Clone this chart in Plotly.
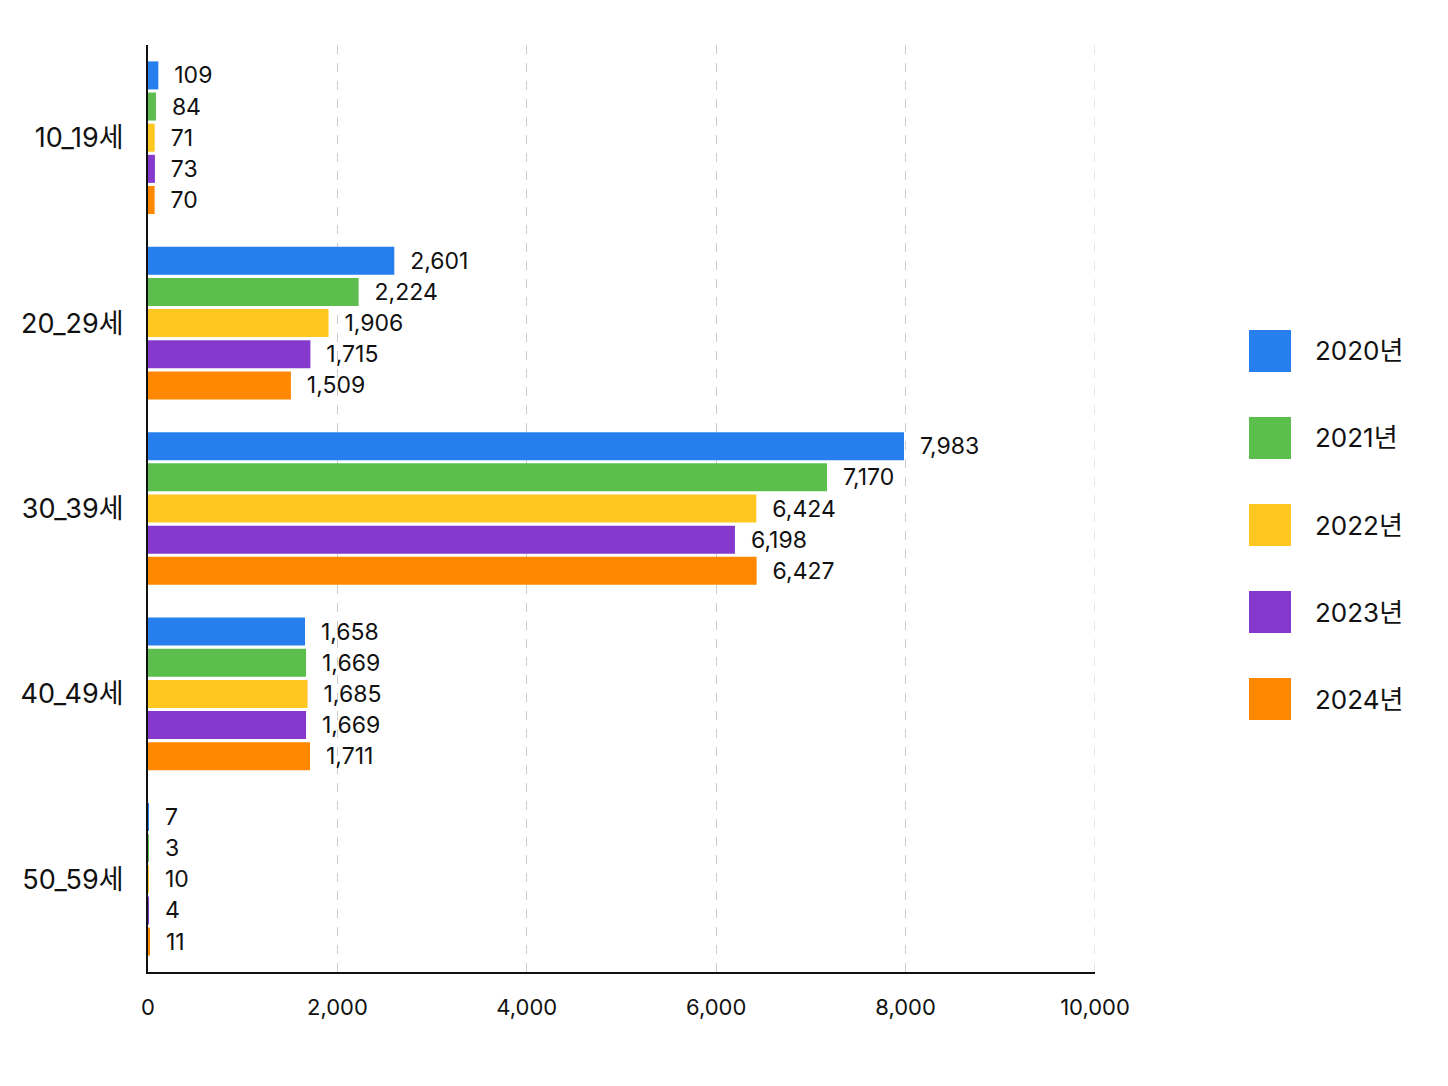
import plotly.graph_objects as go

# age groups and yearly counts
categories = ['10_19세', '20_29세', '30_39세', '40_49세', '50_59세']
years = ['2020년', '2021년', '2022년', '2023년', '2024년']
values_2020 = [109, 2601, 7983, 1658, 7]
values_2021 = [84, 2224, 7170, 1669, 3]
values_2022 = [71, 1906, 6424, 1685, 10]
values_2023 = [73, 1715, 6198, 1669, 4]
values_2024 = [70, 1509, 6427, 1711, 11]
x_ticks = [0, 2000, 4000, 6000, 8000, 10000]

series = [values_2020, values_2021, values_2022, values_2023, values_2024]
colors = ['#277FEE', '#5CBE4C', '#FFC720', '#8439CC', '#FF8800']

font_family = 'Inter, Noto Sans CJK KR, sans-serif'
W, H = 1448, 1086
# page body adds an 8px offset, so margins are set a bit tighter
left, right, top, bottom = 140, 361, 37, 122
plot_w = W - left - right
plot_h = H - top - bottom
scr_left, scr_bottom = left + 8, H - bottom + 8

fig = go.Figure()
for name, vals, color in zip(years, series, colors):
    fig.add_trace(go.Bar(
        y=categories, x=vals, name=name, orientation='h',
        marker=dict(color=color, line=dict(width=0)),
        text=vals, texttemplate='\u00a0\u00a0%{x:,}', textposition='outside',
        textfont=dict(size=23, color='#111111', family=font_family),
        constraintext='none', cliponaxis=False, showlegend=False,
    ))

# hand-drawn legend with large swatches
shapes = []
annotations = []
for i, (name, color) in enumerate(zip(years, colors)):
    cy = 351 + i * 87
    py = (scr_bottom - cy) / plot_h
    px = (1270 - scr_left) / plot_w
    shapes.append(dict(type='rect', xref='paper', yref='paper',
                       xsizemode='pixel', ysizemode='pixel',
                       xanchor=px, yanchor=py, x0=-21, x1=21, y0=-21, y1=21,
                       fillcolor=color, line=dict(width=0)))
    annotations.append(dict(xref='paper', yref='paper',
                            x=(1313 - scr_left) / plot_w, y=py,
                            xanchor='left', yanchor='middle', showarrow=False,
                            text=name, font=dict(size=26, color='#111111', family=font_family)))

# last gridline at the right edge, which plotly drops
shapes.append(dict(type='line', xref='x', yref='paper', x0=x_ticks[-1], x1=x_ticks[-1],
                   y0=0, y1=1, layer='below', line=dict(color='#CCCCCC', width=1, dash='dash')))

fig.update_layout(
    width=W, height=H,
    margin=dict(l=left, r=right, t=top, b=bottom, autoexpand=False),
    paper_bgcolor='white', plot_bgcolor='white',
    barmode='group', bargap=0.16, bargroupgap=0.1,
    font=dict(family=font_family, color='#111111'),
    shapes=shapes, annotations=annotations,
    showlegend=False,
)
fig.update_xaxes(
    range=[0, 10000], tickvals=x_ticks, tickformat=',',
    showgrid=True, gridcolor='#CCCCCC', griddash='dash', gridwidth=1,
    showline=True, linecolor='#111111', linewidth=2,
    zeroline=False, ticks='', ticklabelstandoff=15,
    tickfont=dict(size=22, color='#111111'),
)
fig.update_yaxes(
    autorange='reversed', showgrid=False,
    showline=True, linecolor='#111111', linewidth=2,
    ticks='', ticklabelstandoff=17,
    tickfont=dict(size=27, color='#111111'),
)

fig.write_html('out.html')
